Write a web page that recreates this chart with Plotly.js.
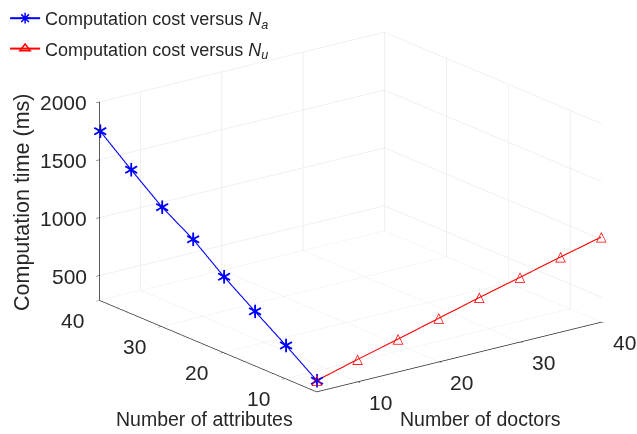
<!DOCTYPE html>
<html><head><meta charset="utf-8">
<script src="https://cdn.plot.ly/plotly-3.0.1.min.js"></script>
<style>html,body{margin:0;padding:0;background:#fff}#chart{width:637px;height:434px}#err{position:absolute;left:120px;top:120px;font:12px sans-serif;color:#900;white-space:pre-wrap;width:500px}</style>
</head><body><div id="chart"></div><div id="err"></div>
<script>
window.onerror = function(m, s, l, c, e){ document.getElementById('err').textContent += 'ERR: ' + m + ' @' + l + '\n'; };
// Data
const steps = [5, 10, 15, 20, 25, 30, 35, 40];
const fixedValue = [5, 5, 5, 5, 5, 5, 5, 5];
const timeVsAttributes = [380, 572, 754, 940, 1151, 1316, 1527, 1747];
const timeVsDoctors = [380, 476, 566, 660, 753, 841, 932, 1018];
const xTicks = [10, 20, 30, 40];
const yTicks = [10, 20, 30, 40];
const zTicks = [500, 1000, 1500, 2000];
const xRange = [4.93, 40];
const yRange = [4.93, 40];
const zRange = [285, 2000];
const nameA = 'Computation cost versus <i>N</i><sub><i>a</i></sub>';
const nameU = 'Computation cost versus <i>N</i><sub><i>u</i></sub>';

const font = 'Liberation Sans, Arial, Helvetica, sans-serif';
const dark = '#262626';
const grid = '#e3e3e3';

const traces = [
  {type:'scatter3d', mode:'lines+text', x:fixedValue, y:steps, z:timeVsAttributes,
   line:{color:'#0000ff', width:2.2}, text:steps.map(()=>'∗'),
   textposition:'middle center', textfont:{color:'#0000ff', size:22, family:'DejaVu Sans'},
   showlegend:false, hoverinfo:'skip'},
  {type:'scatter3d', mode:'lines+text', x:steps, y:fixedValue, z:timeVsDoctors,
   line:{color:'#ff0000', width:2.2}, text:steps.map(()=>'△'),
   textposition:'middle center', textfont:{color:'#ff0000', size:14, family:'DejaVu Sans'},
   showlegend:false, hoverinfo:'skip'},
  {type:'scatter', mode:'lines+markers', x:[null], y:[null], name:nameA, legendgroup:'a',
   line:{color:'#0000ff', width:2}, marker:{symbol:'asterisk-open', size:9, color:'#0000ff', line:{color:'#0000ff', width:1.5}}},
  {type:'scatter', mode:'lines+markers', x:[null], y:[null], name:nameU, legendgroup:'u',
   line:{color:'#ff0000', width:2}, marker:{symbol:'triangle-up-open', size:9, color:'#ff0000', line:{color:'#ff0000', width:1.5}}}
];

function ax3(range, ticks) {
  return {range:range, tickvals:ticks, autorange:false, showticklabels:false,
    showgrid:true, gridcolor:grid, gridwidth:1, zeroline:false,
    showline:true, linecolor:dark, linewidth:1.5, ticks:'inside', ticklen:4, tickcolor:dark,
    showbackground:false, showspikes:false, title:{text:''}};
}

const tickFont = {family:font, size:21, color:dark};
const sceneAnn = [];
xTicks.forEach(t => sceneAnn.push({x:t, y:yRange[0], z:zRange[0], text:String(t), showarrow:false,
  xanchor:'center', yanchor:'middle', xshift:23, yshift:-20, font:tickFont}));
yTicks.forEach(t => sceneAnn.push({x:xRange[0], y:t, z:zRange[0], text:String(t), showarrow:false,
  xanchor:'center', yanchor:'middle', xshift:-27, yshift:-19, font:tickFont}));
zTicks.forEach(t => sceneAnn.push({x:xRange[0], y:yRange[1], z:t, text:String(t), showarrow:false,
  xanchor:'right', yanchor:'middle', xshift:-10, yshift:0, font:tickFont}));

const layout = {
  width:637, height:434, margin:{l:0, r:0, t:0, b:0},
  paper_bgcolor:'#fff', plot_bgcolor:'#fff', font:{family:font, color:dark},
  xaxis:{visible:false, domain:[0,0.01]}, yaxis:{visible:false, domain:[0,0.01]},
  showlegend:true,
  legend:{x:0.008, y:1, xanchor:'left', yanchor:'top', bgcolor:'rgba(0,0,0,0)',
    font:{family:font, size:18, color:dark}, tracegroupgap:4, itemwidth:30},
  scene:{
    domain:{x:[0.1,1], y:[0.028,0.992]},
    xaxis:ax3(xRange, xTicks), yaxis:ax3(yRange, yTicks), zaxis:ax3(zRange, zTicks),
    aspectmode:'manual', aspectratio:{x:1.714, y:1.714, z:1.003},
    camera:{projection:{type:'orthographic'}, eye:{x:-1.148, y:-1.506, z:0.642}, up:{x:0,y:0,z:1}, center:{x:0,y:0,z:0}},
    annotations:sceneAnn
  },
  annotations:[
    {text:'Computation time (ms)', xref:'paper', yref:'paper', x:22/637, y:1-203/434, xanchor:'center', yanchor:'middle', textangle:-90, showarrow:false, font:{family:font, size:21.5, color:dark}},
    {text:'Number of attributes', xref:'paper', yref:'paper', x:204/637, y:1-419/434, xanchor:'center', yanchor:'middle', showarrow:false, font:{family:font, size:19.5, color:dark}},
    {text:'Number of doctors', xref:'paper', yref:'paper', x:480/637, y:1-419/434, xanchor:'center', yanchor:'middle', showarrow:false, font:{family:font, size:19.5, color:dark}}
  ]
};

Plotly.newPlot('chart', traces, layout, {displayModeBar:false}).catch(e => { document.getElementById('err').textContent += 'PROMISE: ' + e + '\n'; });
</script></body></html>
